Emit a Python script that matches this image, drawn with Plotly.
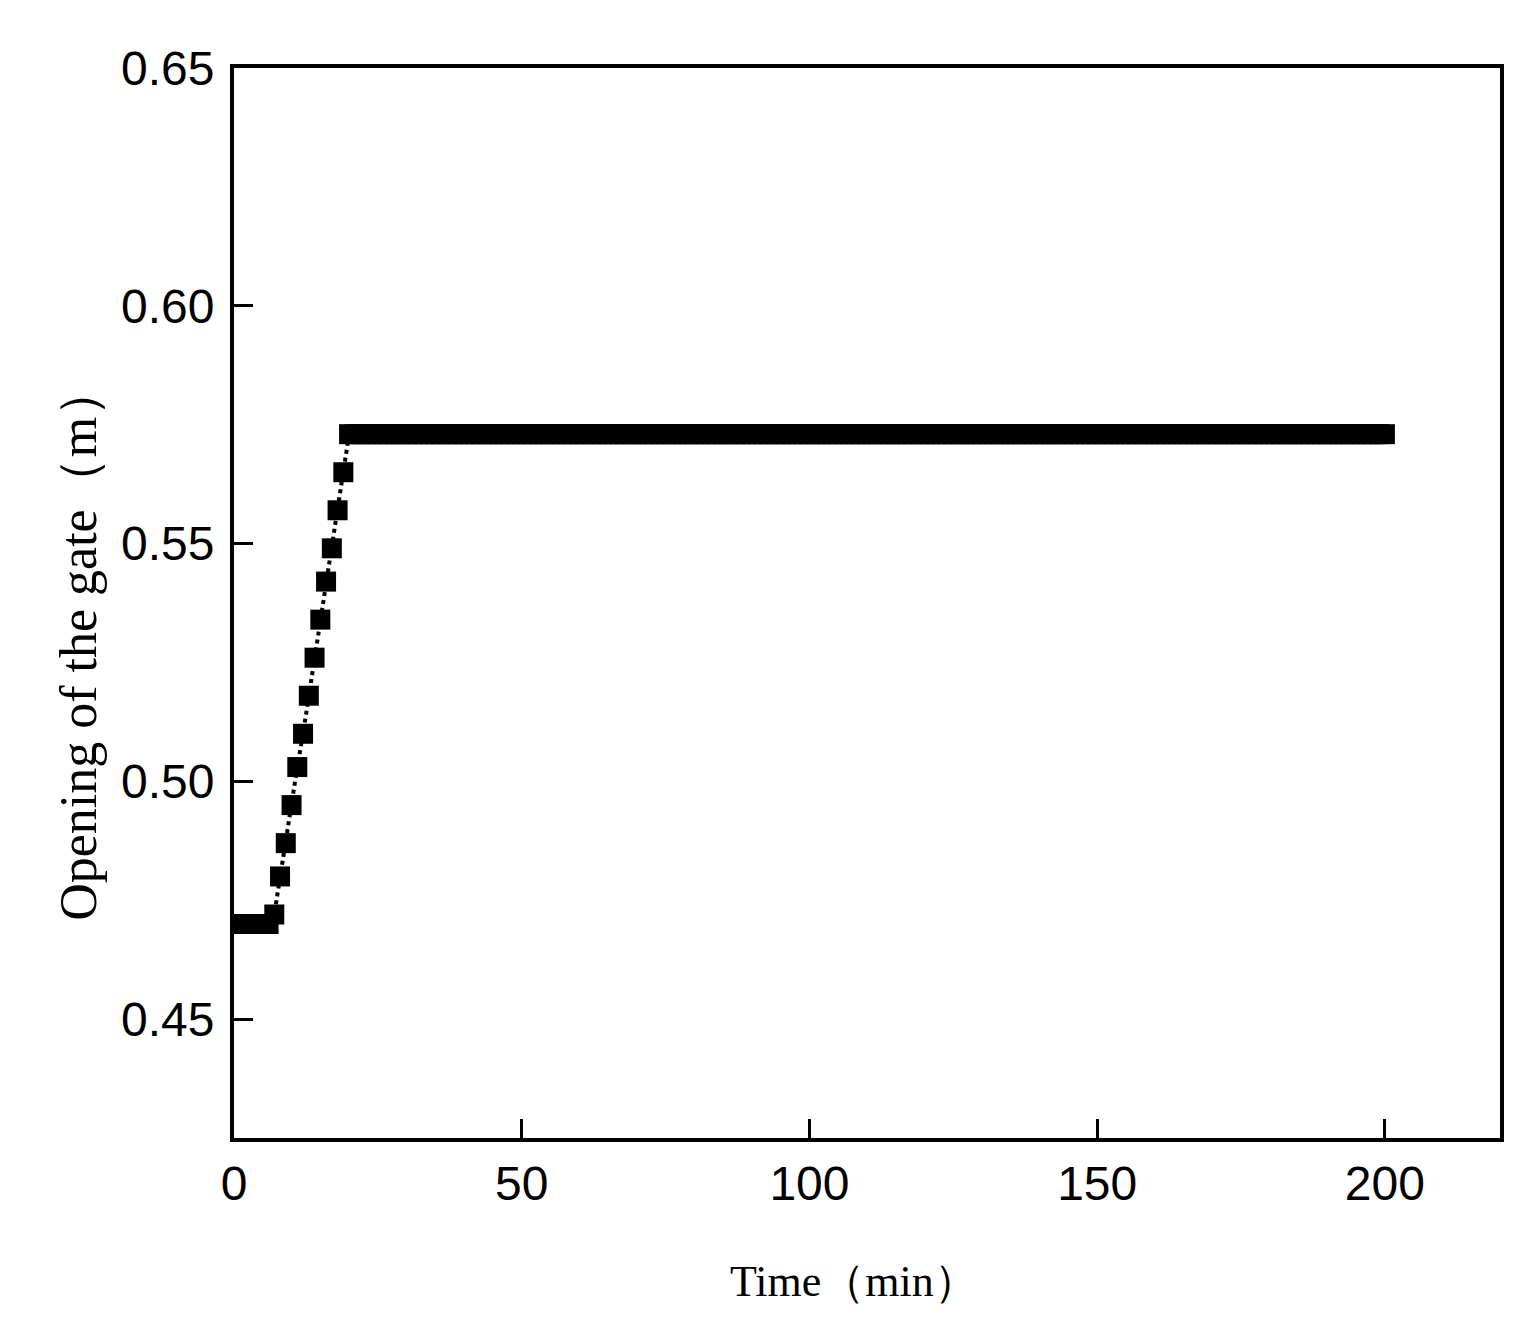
import plotly.graph_objects as go

# time in minutes, one sample per minute
time_min = list(range(0, 201))

# gate opening (m)
opening_start = [0.470, 0.470, 0.470, 0.470, 0.470, 0.470, 0.470]
opening_rise = [0.472, 0.480, 0.487, 0.495, 0.503, 0.510, 0.518,
                0.526, 0.534, 0.542, 0.549, 0.557, 0.565]
opening_steady = [0.573] * 181
opening_m = opening_start + opening_rise + opening_steady

x_ticks = [0, 50, 100, 150, 200]
y_ticks = [0.45, 0.50, 0.55, 0.60, 0.65]

fig = go.Figure()
fig.add_trace(go.Scatter(
    x=time_min, y=opening_m, mode='lines+markers',
    line=dict(color='black', width=4, dash='dot'),
    marker=dict(symbol='square', size=20, color='black'),
    showlegend=False
))

axis_common = dict(
    showline=True, linecolor='black', linewidth=4, mirror=True,
    ticks='inside', ticklen=19, tickwidth=3, tickcolor='black',
    showgrid=False, zeroline=False,
    tickfont=dict(family='Liberation Sans, Arial', size=48, color='black'),
)

fig.update_xaxes(
    range=[0, 220], tickvals=x_ticks, ticktext=[str(v) for v in x_ticks],
    **axis_common
)
fig.update_yaxes(
    range=[0.425, 0.65], tickvals=y_ticks, ticktext=['%.2f' % v for v in y_ticks],
    ticklabelstandoff=6,
    **axis_common
)

title_font = dict(family='Liberation Serif, Times New Roman', color='black')

# axis titles as annotations: both sit off-centre in the original
fig.add_annotation(
    text='Time（min）', xref='paper', yref='paper', x=0.49, y=-0.109,
    xanchor='center', yanchor='top', showarrow=False,
    font=dict(size=44, **title_font)
)
fig.add_annotation(
    text='Opening of the gate（m）', xref='paper', yref='paper', x=-0.123, y=0.463,
    xanchor='center', yanchor='middle', textangle=-90, showarrow=False,
    font=dict(size=52, **title_font)
)

fig.update_layout(
    width=1524, height=1316,
    margin=dict(l=226, r=32, t=60, b=186),
    plot_bgcolor='white', paper_bgcolor='white',
)

fig.write_html("out.html")
